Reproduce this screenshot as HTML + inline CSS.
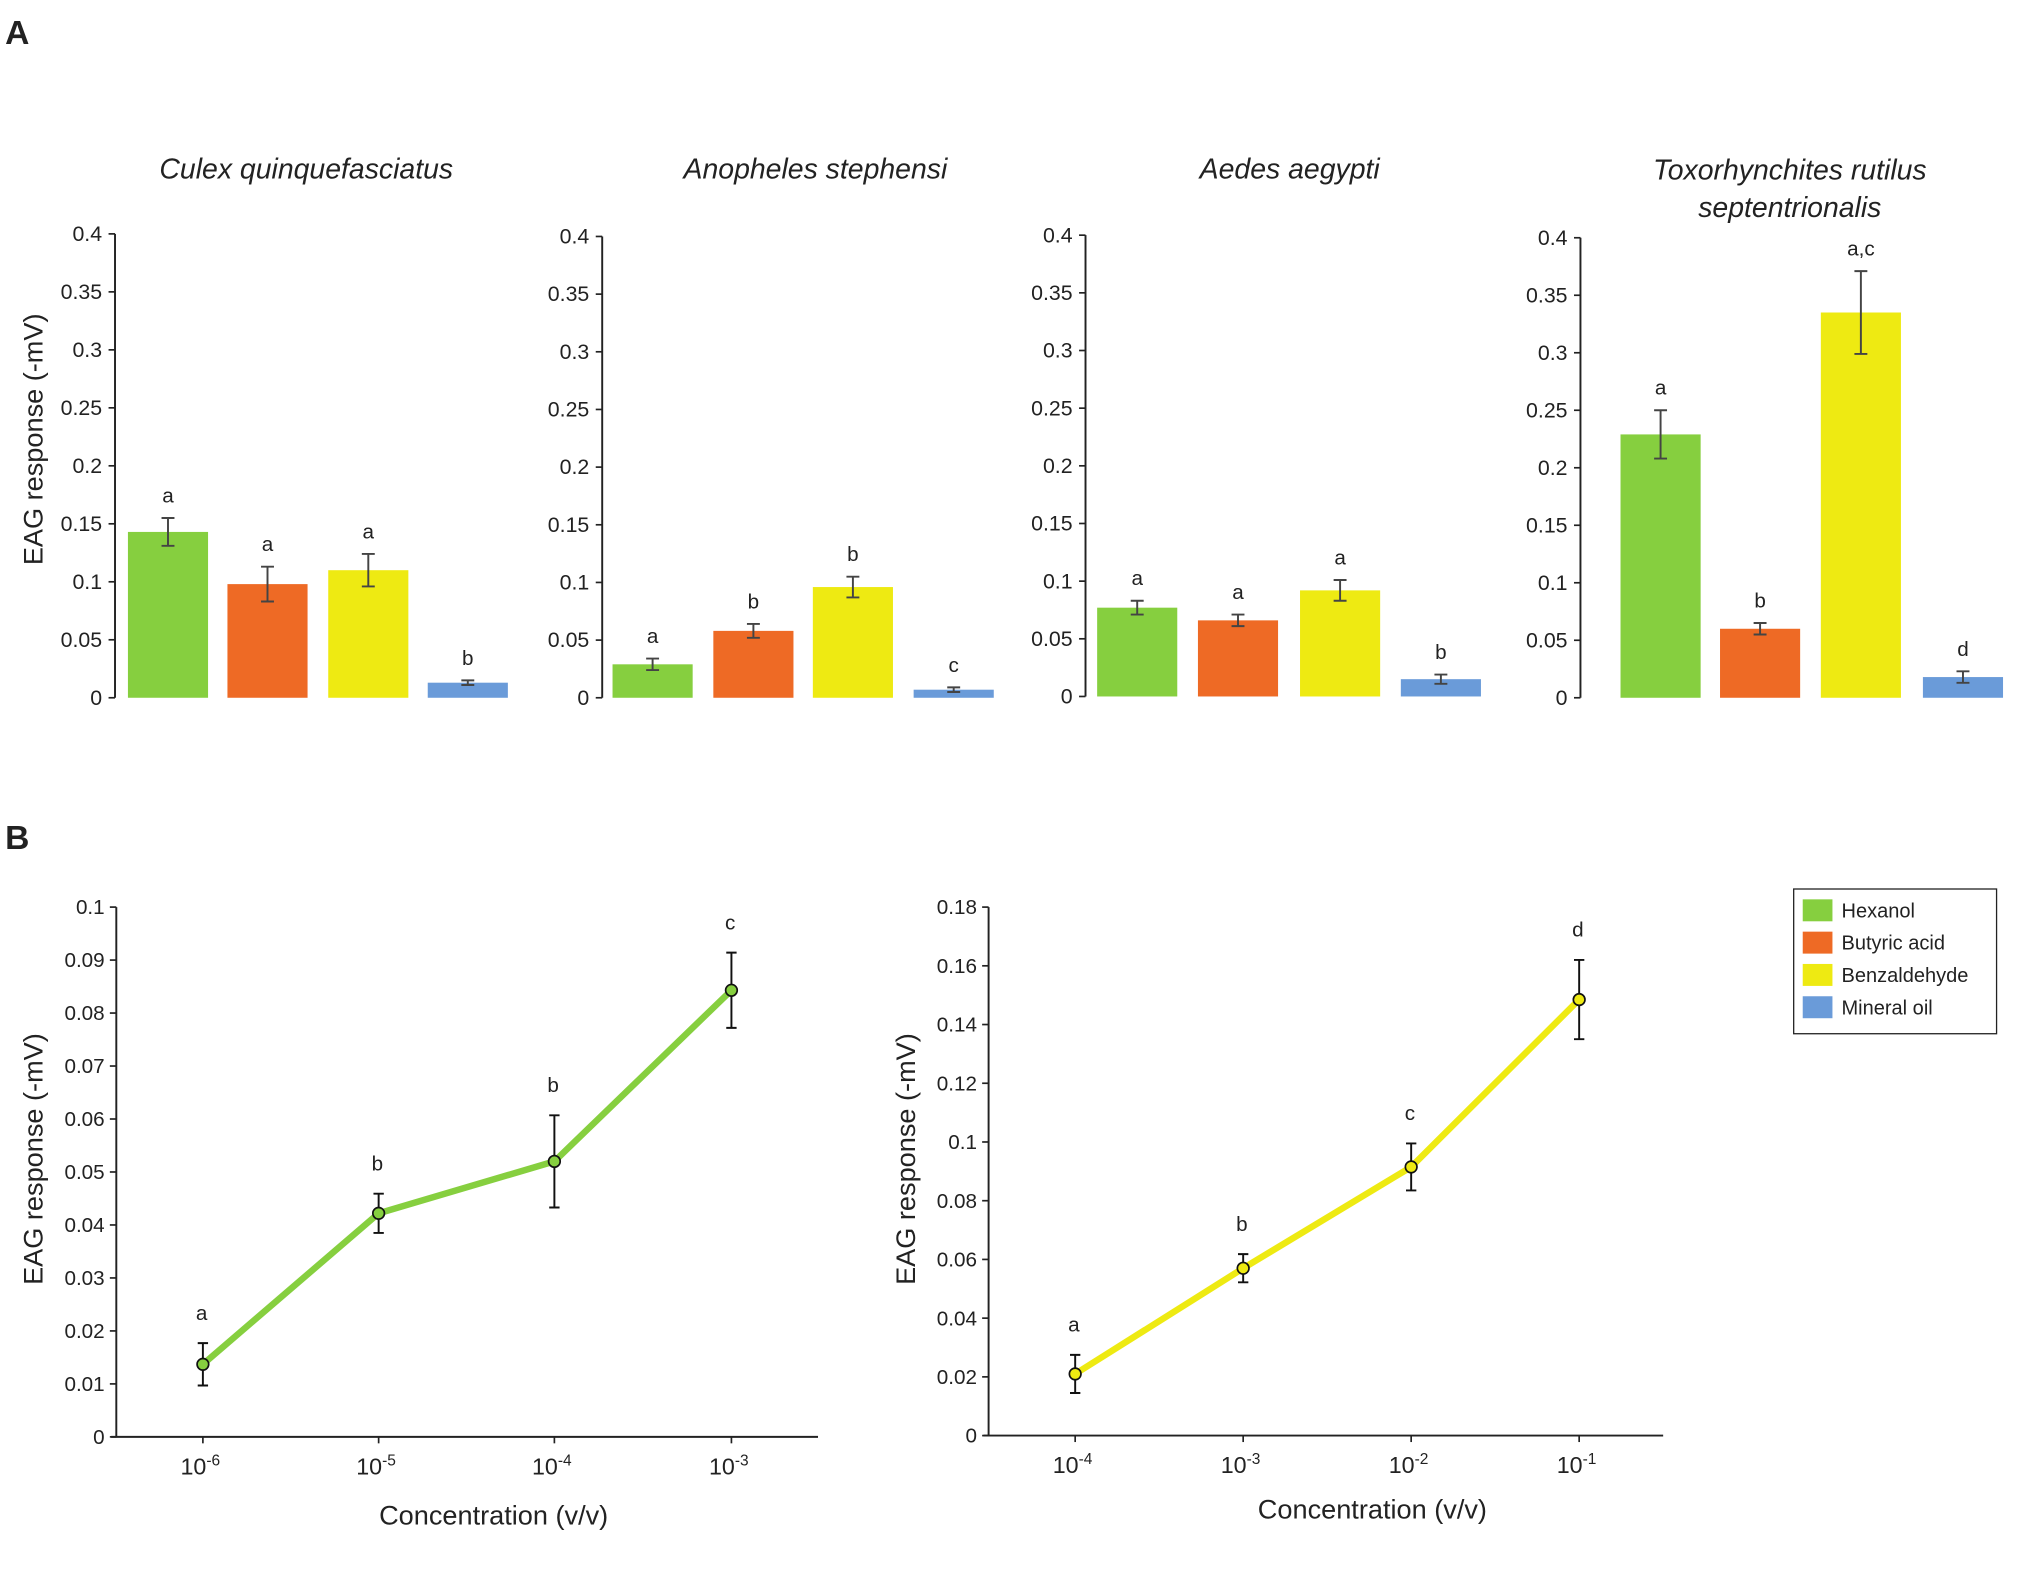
<!DOCTYPE html>
<html><head><meta charset="utf-8"><style>
html,body{margin:0;padding:0;background:#fff}
svg{display:block;font-family:"Liberation Sans",Arial,sans-serif}
</style></head><body>
<svg id="fig" width="2025" height="1590" viewBox="0 0 1567 1230.5" preserveAspectRatio="none"></svg>
<script>
const colors=["#86cf3f","#ee6a25","#eeea12","#6a9bd9"];
const compounds=["Hexanol","Butyric acid","Benzaldehyde","Mineral oil"];
const speciesTitles=[["Culex quinquefasciatus"],["Anopheles stephensi"],["Aedes aegypti"],["Toxorhynchites rutilus","septentrionalis"]];
const culexVals=[0.143,0.098,0.110,0.013];
const culexErr=[0.012,0.015,0.014,0.002];
const culexLet=["a","a","a","b"];
const anophVals=[0.029,0.058,0.096,0.007];
const anophErr=[0.005,0.006,0.009,0.002];
const anophLet=["a","b","b","c"];
const aedesVals=[0.077,0.066,0.092,0.015];
const aedesErr=[0.006,0.005,0.009,0.004];
const aedesLet=["a","a","a","b"];
const toxoVals=[0.229,0.060,0.335,0.018];
const toxoErr=[0.021,0.005,0.036,0.005];
const toxoLet=["a","b","a,c","d"];
const barTicks=["0","0.05","0.1","0.15","0.2","0.25","0.3","0.35","0.4"];
const hexConc=["-6","-5","-4","-3"];
const hexVals=[0.0137,0.0422,0.052,0.0843];
const hexErr=[0.004,0.0037,0.0087,0.0071];
const hexLet=["a","b","b","c"];
const hexTicks=["0","0.01","0.02","0.03","0.04","0.05","0.06","0.07","0.08","0.09","0.1"];
const benzConc=["-4","-3","-2","-1"];
const benzVals=[0.021,0.057,0.0915,0.1485];
const benzErr=[0.0065,0.0048,0.008,0.0135];
const benzLet=["a","b","c","d"];
const benzTicks=["0","0.02","0.04","0.06","0.08","0.1","0.12","0.14","0.16","0.18"];

const NS="http://www.w3.org/2000/svg";
const svg=document.getElementById("fig");
function el(tag,attrs,parent,text){const e=document.createElementNS(NS,tag);for(const k in attrs)e.setAttribute(k,attrs[k]);if(text!==undefined)e.textContent=text;(parent||svg).appendChild(e);return e;}

let t=el("text",{x:4,y:34,"font-size":26,"font-weight":"bold",fill:"#222"},svg,"A");


t=el("text",{x:4,y:657,"font-size":26,"font-weight":"bold",fill:"#222"},svg,"B");



const barPanels=[
 {ax:89,y0:540,ytop:181,vals:culexVals,err:culexErr,let:culexLet,cx:[130,207,285,362],tx:237,name:"culex"},
 {ax:466,y0:540,ytop:183,vals:anophVals,err:anophErr,let:anophLet,cx:[505,583,660,738],tx:631,name:"anopheles"},
 {ax:840,y0:539,ytop:182,vals:aedesVals,err:aedesErr,let:aedesLet,cx:[880,958,1037,1115],tx:998,name:"aedes"},
 {ax:1223,y0:540,ytop:184,vals:toxoVals,err:toxoErr,let:toxoLet,cx:[1285,1362,1440,1519],tx:1385,name:"toxorhynchites"}
];
barPanels.forEach((p,pi)=>{
 const g=el("g",{});
 
 
 const y=v=>p.y0-(v/0.4)*(p.y0-p.ytop);
 speciesTitles[pi].forEach((line,li)=>{
  const tt=el("text",{x:p.tx,y:(pi==3?139:138)+li*29,"font-size":22,"font-style":"italic","text-anchor":"middle",fill:"#222"},g,line);
  
  
 });
 const axl=el("line",{x1:p.ax,y1:p.ytop,x2:p.ax,y2:p.y0,stroke:"#222","stroke-width":1.5},g);
 
 
 barTicks.forEach(tk=>{
  const v=parseFloat(tk),yy=y(v);
  el("line",{x1:p.ax-5,y1:yy,x2:p.ax,y2:yy,stroke:"#222","stroke-width":1.3},g);
  const tl=el("text",{x:p.ax-10,y:yy+5.5,"font-size":16.5,"text-anchor":"end",fill:"#222"},g,tk);
  
  
 });
 p.vals.forEach((v,i)=>{
  const b=el("rect",{x:p.cx[i]-31,y:y(v),width:62,height:p.y0-y(v),fill:colors[i]},g);
  
  
  const e=p.err[i],yh=y(v+e),yl=y(v-e);
  el("path",{d:`M${p.cx[i]},${yh}V${yl}M${p.cx[i]-5},${yh}h10M${p.cx[i]-5},${yl}h10`,stroke:"#444","stroke-width":1.5,fill:"none"},g);
  const lt=el("text",{x:p.cx[i],y:yh-12,"font-size":16,"text-anchor":"middle",fill:"#222"},g,p.let[i]);
  
  
 });
});
t=el("text",{x:0,y:0,"font-size":21,"text-anchor":"middle",fill:"#222",transform:"translate(33,340) rotate(-90)"},svg,"EAG response (-mV)");



const linePanels=[
 {ax:90,xend:633,y0:1112,ytop:702,max:0.1,ticks:hexTicks,vals:hexVals,err:hexErr,let:hexLet,conc:hexConc,px:[157,293,429,566],col:"#86cf3f",name:"hexanol",xl:382,xly:1180,yl:33},
 {ax:765,xend:1287,y0:1111,ytop:702,max:0.18,ticks:benzTicks,vals:benzVals,err:benzErr,let:benzLet,conc:benzConc,px:[832,962,1092,1222],col:"#eeea12",name:"benzaldehyde",xl:1062,xly:1175,yl:708}
];
linePanels.forEach(p=>{
 const g=el("g",{});
 
 
 const y=v=>p.y0-(v/p.max)*(p.y0-p.ytop);
 el("line",{x1:p.ax,y1:p.ytop,x2:p.ax,y2:p.y0,stroke:"#222","stroke-width":1.5},g);
 el("line",{x1:p.ax-4,y1:p.y0,x2:p.xend,y2:p.y0,stroke:"#222","stroke-width":1.5},g);
 p.ticks.forEach(tk=>{
  const yy=y(parseFloat(tk));
  el("line",{x1:p.ax-5,y1:yy,x2:p.ax,y2:yy,stroke:"#222","stroke-width":1.3},g);
  const tl=el("text",{x:p.ax-9,y:yy+5.5,"font-size":16,"text-anchor":"end",fill:"#222"},g,tk);
  
  
 });
 p.conc.forEach((c,i)=>{
  el("line",{x1:p.px[i],y1:p.y0,x2:p.px[i],y2:p.y0+5,stroke:"#222","stroke-width":1.3},g);
  const tl=el("text",{x:p.px[i]-2,y:p.y0+29,"font-size":18,"text-anchor":"middle",fill:"#222"},g);
  el("tspan",{},tl,"10");
  el("tspan",{dy:-7,"font-size":12},tl,c);
  
  
 });
 const d=p.vals.map((v,i)=>(i?"L":"M")+p.px[i]+","+y(v)).join("");
 const ln=el("path",{d:d,stroke:p.col,"stroke-width":5,fill:"none","stroke-linejoin":"round"},g);
 
 
 p.vals.forEach((v,i)=>{
  const yh=y(v+p.err[i]),yl=y(v-p.err[i]),x=p.px[i];
  el("path",{d:`M${x},${yh}V${yl}M${x-4},${yh}h8M${x-4},${yl}h8`,stroke:"#111","stroke-width":1.5,fill:"none"},g);
  const pt=el("circle",{cx:x,cy:y(v),r:4.5,fill:p.col,stroke:"#111","stroke-width":1.3},g);
  
  
  const lt=el("text",{x:x-1,y:yh-18,"font-size":16,"text-anchor":"middle",fill:"#222"},g,p.let[i]);
  
  
 });
 const xt=el("text",{x:p.xl,y:p.xly,"font-size":21,"text-anchor":"middle",fill:"#222"},g,"Concentration (v/v)");
 
 
 const yt=el("text",{x:0,y:0,"font-size":21,"text-anchor":"middle",fill:"#222",transform:`translate(${p.yl},897) rotate(-90)`},g,"EAG response (-mV)");
 
 
});

const lg=el("g",{});


el("rect",{x:1388,y:688,width:157,height:112,fill:"#fff",stroke:"#222","stroke-width":1},lg);
compounds.forEach((c,i)=>{
 const ee=el("g",{},lg);
 
 
 el("rect",{x:1395,y:696+i*25,width:23,height:17,fill:colors[i]},ee);
 el("text",{x:1425,y:710+i*25,"font-size":15.5,fill:"#222"},ee,c);
});
</script>
</body></html>
